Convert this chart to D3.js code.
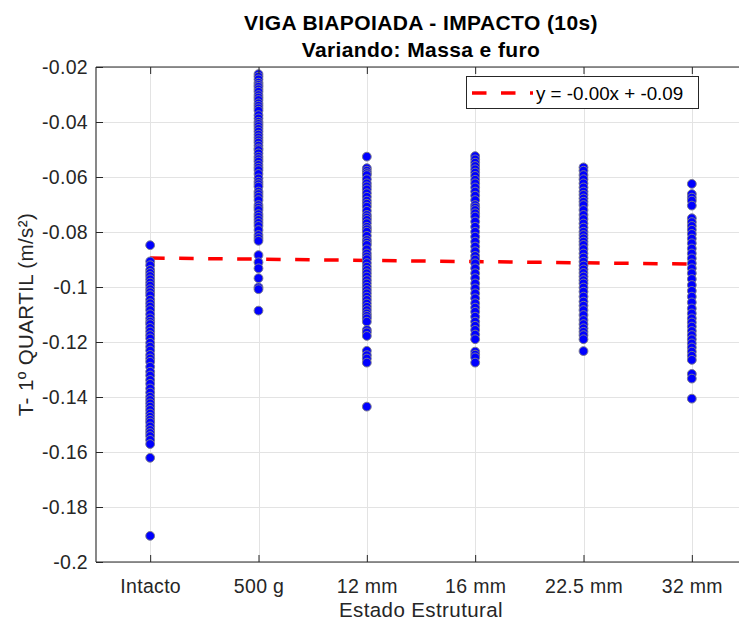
<!DOCTYPE html>
<html>
<head>
<meta charset="utf-8">
<script src="https://cdn.jsdelivr.net/npm/d3@7"></script>
<style>
  html, body { margin: 0; padding: 0; background: #fff; overflow: hidden; }
  svg { display: block; font-family: "Liberation Sans", Arial, Helvetica, sans-serif; }
</style>
</head>
<body>
<svg id="chart" width="739" height="624"></svg>
<script>
// Structural states along the horizontal axis
const categories = ["Intacto", "500 g", "12 mm", "16 mm", "22.5 mm", "32 mm"];

// First-quartile values (m/s²) recorded for each structural state
const intacto = [-0.0848, -0.0907, -0.0921, -0.0938, -0.0949, -0.0960, -0.0972, -0.0984, -0.0995, -0.1008,
  -0.1019, -0.1030, -0.1046, -0.1059, -0.1071, -0.1084, -0.1099, -0.1114, -0.1126, -0.1135, -0.1149,
  -0.1162, -0.1175, -0.1187, -0.1203, -0.1217, -0.1231, -0.1247, -0.1260, -0.1272, -0.1290, -0.1308,
  -0.1322, -0.1338, -0.1352, -0.1369, -0.1384, -0.1399, -0.1411, -0.1423, -0.1435, -0.1447, -0.1460,
  -0.1472, -0.1483, -0.1493, -0.1507, -0.1520, -0.1531, -0.1542, -0.1556, -0.1571, -0.1621, -0.1905];
const massa500g = [-0.0226, -0.0235, -0.0245, -0.0257, -0.0265, -0.0272, -0.0281, -0.0290, -0.0302, -0.0311,
  -0.0320, -0.0332, -0.0341, -0.0350, -0.0359, -0.0375, -0.0387, -0.0399, -0.0407, -0.0415, -0.0425,
  -0.0435, -0.0446, -0.0456, -0.0466, -0.0475, -0.0486, -0.0496, -0.0502, -0.0514, -0.0526, -0.0535,
  -0.0544, -0.0556, -0.0566, -0.0575, -0.0589, -0.0605, -0.0617, -0.0626, -0.0635, -0.0653, -0.0662,
  -0.0672, -0.0684, -0.0702, -0.0711, -0.0720, -0.0735, -0.0745, -0.0756, -0.0767, -0.0778, -0.0793,
  -0.0811, -0.0822, -0.0832, -0.0884, -0.0910, -0.0932, -0.0968, -0.1001, -0.1008, -0.1086];
const furo12mm = [-0.0526, -0.0568, -0.0577, -0.0586, -0.0593, -0.0608, -0.0623, -0.0634, -0.0645, -0.0659,
  -0.0672, -0.0686, -0.0697, -0.0708, -0.0723, -0.0738, -0.0747, -0.0756, -0.0768, -0.0781, -0.0790,
  -0.0799, -0.0814, -0.0829, -0.0838, -0.0847, -0.0863, -0.0878, -0.0889, -0.0899, -0.0913, -0.0926,
  -0.0938, -0.0950, -0.0962, -0.0975, -0.0987, -0.0999, -0.1011, -0.1023, -0.1035, -0.1047, -0.1060,
  -0.1072, -0.1084, -0.1096, -0.1105, -0.1114, -0.1126, -0.1156, -0.1165, -0.1178, -0.1232, -0.1248,
  -0.1260, -0.1275, -0.1435];
const furo16mm = [-0.0524, -0.0536, -0.0548, -0.0560, -0.0572, -0.0584, -0.0596, -0.0610, -0.0623, -0.0638,
  -0.0653, -0.0668, -0.0684, -0.0702, -0.0711, -0.0720, -0.0732, -0.0744, -0.0762, -0.0781, -0.0799,
  -0.0817, -0.0835, -0.0853, -0.0870, -0.0887, -0.0900, -0.0914, -0.0932, -0.0950, -0.0968, -0.0987,
  -0.1005, -0.1023, -0.1041, -0.1059, -0.1075, -0.1090, -0.1108, -0.1126, -0.1141, -0.1156, -0.1173,
  -0.1190, -0.1235, -0.1246, -0.1256, -0.1275];
const furo22mm = [-0.0565, -0.0577, -0.0593, -0.0608, -0.0623, -0.0638, -0.0653, -0.0665, -0.0678, -0.0690,
  -0.0702, -0.0720, -0.0738, -0.0753, -0.0769, -0.0784, -0.0799, -0.0811, -0.0823, -0.0835, -0.0847,
  -0.0862, -0.0878, -0.0893, -0.0908, -0.0922, -0.0936, -0.0949, -0.0962, -0.0975, -0.0987, -0.1002,
  -0.1017, -0.1035, -0.1053, -0.1068, -0.1084, -0.1102, -0.1120, -0.1135, -0.1150, -0.1163, -0.1175,
  -0.1190, -0.1233];
const furo32mm = [-0.0625, -0.0662, -0.0675, -0.0686, -0.0704, -0.0750, -0.0764, -0.0778, -0.0792, -0.0807,
  -0.0824, -0.0841, -0.0860, -0.0878, -0.0896, -0.0914, -0.0932, -0.0950, -0.0971, -0.0993, -0.1014,
  -0.1035, -0.1056, -0.1078, -0.1096, -0.1114, -0.1129, -0.1144, -0.1160, -0.1175, -0.1190, -0.1205,
  -0.1220, -0.1235, -0.1250, -0.1265, -0.1316, -0.1333, -0.1406];

// Linear trend over the category index (1..6)
const trendSlope = -0.00044;
const trendIntercept = -0.08901;

// Vertical axis ticks
const yTicks = [-0.2, -0.18, -0.16, -0.14, -0.12, -0.1, -0.08, -0.06, -0.04, -0.02];
const yTickLabels = ["-0.2", "-0.18", "-0.16", "-0.14", "-0.12", "-0.1", "-0.08", "-0.06", "-0.04", "-0.02"];

const seriesByState = [intacto, massa500g, furo12mm, furo16mm, furo22mm, furo32mm];

const svg = d3.select("#chart");
const axisColor = "#262626";
const plotLeft = 96, plotRight = 746, plotTop = 67, plotBottom = 562;

const x = d3.scaleLinear().domain([0.5, categories.length + 0.5]).range([plotLeft, plotRight]);
const y = d3.scaleLinear().domain([-0.2, -0.02]).range([plotBottom, plotTop]);

// Grid
const grid = svg.append("g").attr("stroke", "#e3e3e3").attr("stroke-width", 1);
grid.selectAll("line.gy").data(yTicks).join("line")
  .attr("x1", plotLeft).attr("x2", plotRight)
  .attr("y1", d => Math.round(y(d)) + 0.5).attr("y2", d => Math.round(y(d)) + 0.5);
grid.selectAll("line.gx").data(categories).join("line")
  .attr("y1", plotTop).attr("y2", plotBottom)
  .attr("x1", (d, i) => Math.round(x(i + 1)) + 0.5).attr("x2", (d, i) => Math.round(x(i + 1)) + 0.5);

// Trend line
const trendX = [1, categories.length];
svg.append("line")
  .attr("x1", x(trendX[0])).attr("y1", y(trendIntercept + trendSlope * trendX[0]))
  .attr("x2", x(trendX[1])).attr("y2", y(trendIntercept + trendSlope * trendX[1]))
  .attr("stroke", "#ff0000").attr("stroke-width", 3.5)
  .attr("stroke-dasharray", "14.5,14.5");

// Scatter points
const points = seriesByState.flatMap((vals, i) => vals.map(v => ({ c: i + 1, v })));
svg.append("g").selectAll("circle").data(points).join("circle")
  .attr("cx", d => x(d.c))
  .attr("cy", d => y(d.v))
  .attr("r", 4.4)
  .attr("fill", "#0000ff")
  .attr("stroke", "#7a7a8c")
  .attr("stroke-width", 1);

// Axes (ticks pointing inward, box style)
const yAxis = d3.axisLeft(y).tickValues(yTicks).tickSize(-7).tickPadding(8)
  .tickFormat((d, i) => yTickLabels[i]);
const gy = svg.append("g").attr("transform", `translate(${plotLeft},0)`).call(yAxis);

const xAxis = d3.axisBottom(x).tickValues(categories.map((c, i) => i + 1)).tickSize(-7).tickPadding(17)
  .tickFormat((d, i) => categories[i]);
const gx = svg.append("g").attr("transform", `translate(0,${plotBottom})`).call(xAxis);

const xTop = d3.axisTop(x).tickValues(categories.map((c, i) => i + 1)).tickSize(-7).tickFormat("");
const gt = svg.append("g").attr("transform", `translate(0,${plotTop})`).call(xTop);

[gy, gx, gt].forEach(g => {
  g.select(".domain").attr("stroke", axisColor).attr("stroke-width", 1.1);
  g.selectAll(".tick line").attr("stroke", axisColor).attr("stroke-width", 1);
  g.selectAll("text").attr("fill", axisColor).attr("font-size", 19.5)
    .attr("letter-spacing", 0.3)
    .attr("font-family", "'Liberation Sans', Arial, sans-serif");
});
gy.select(".domain").attr("d", `M0,${plotTop}V${plotBottom}`);
gx.select(".domain").attr("d", `M${plotLeft},0H${plotRight}`);
gt.select(".domain").attr("d", `M${plotLeft},0H${plotRight}`);

// Axis titles
svg.append("text")
  .attr("x", (plotLeft + plotRight) / 2).attr("y", 617)
  .attr("text-anchor", "middle").attr("font-size", 20.5).attr("letter-spacing", 0.4).attr("fill", axisColor)
  .text("Estado Estrutural");
svg.append("text")
  .attr("transform", `translate(33,${(plotTop + plotBottom) / 2}) rotate(-90)`)
  .attr("text-anchor", "middle").attr("font-size", 20.5).attr("letter-spacing", 0.4).attr("fill", axisColor)
  .text("T- 1º QUARTIL (m/s²)");

// Titles
svg.append("text")
  .attr("x", (plotLeft + plotRight) / 2).attr("y", 29.5)
  .attr("text-anchor", "middle").attr("font-size", 21).attr("letter-spacing", 0.4)
  .attr("font-weight", "bold").attr("fill", "#000")
  .text("VIGA BIAPOIADA - IMPACTO (10s)");
svg.append("text")
  .attr("x", (plotLeft + plotRight) / 2).attr("y", 57)
  .attr("text-anchor", "middle").attr("font-size", 21).attr("letter-spacing", 0.4)
  .attr("font-weight", "bold").attr("fill", "#000")
  .text("Variando: Massa e furo");

// Legend
const fmt = v => v.toFixed(2);
const legend = svg.append("g");
legend.append("rect")
  .attr("x", 466.5).attr("y", 76.5).attr("width", 232).attr("height", 32)
  .attr("fill", "#fff").attr("stroke", axisColor).attr("stroke-width", 1);
legend.append("line")
  .attr("x1", 472).attr("x2", 533).attr("y1", 93).attr("y2", 93)
  .attr("stroke", "#ff0000").attr("stroke-width", 3.5).attr("stroke-dasharray", "14.5,14.5");
legend.append("text")
  .attr("x", 536).attr("y", 99.5).attr("font-size", 18.8).attr("fill", "#000")
  .text(`y = ${fmt(trendSlope)}x + ${fmt(trendIntercept)}`);
</script>
</body>
</html>
